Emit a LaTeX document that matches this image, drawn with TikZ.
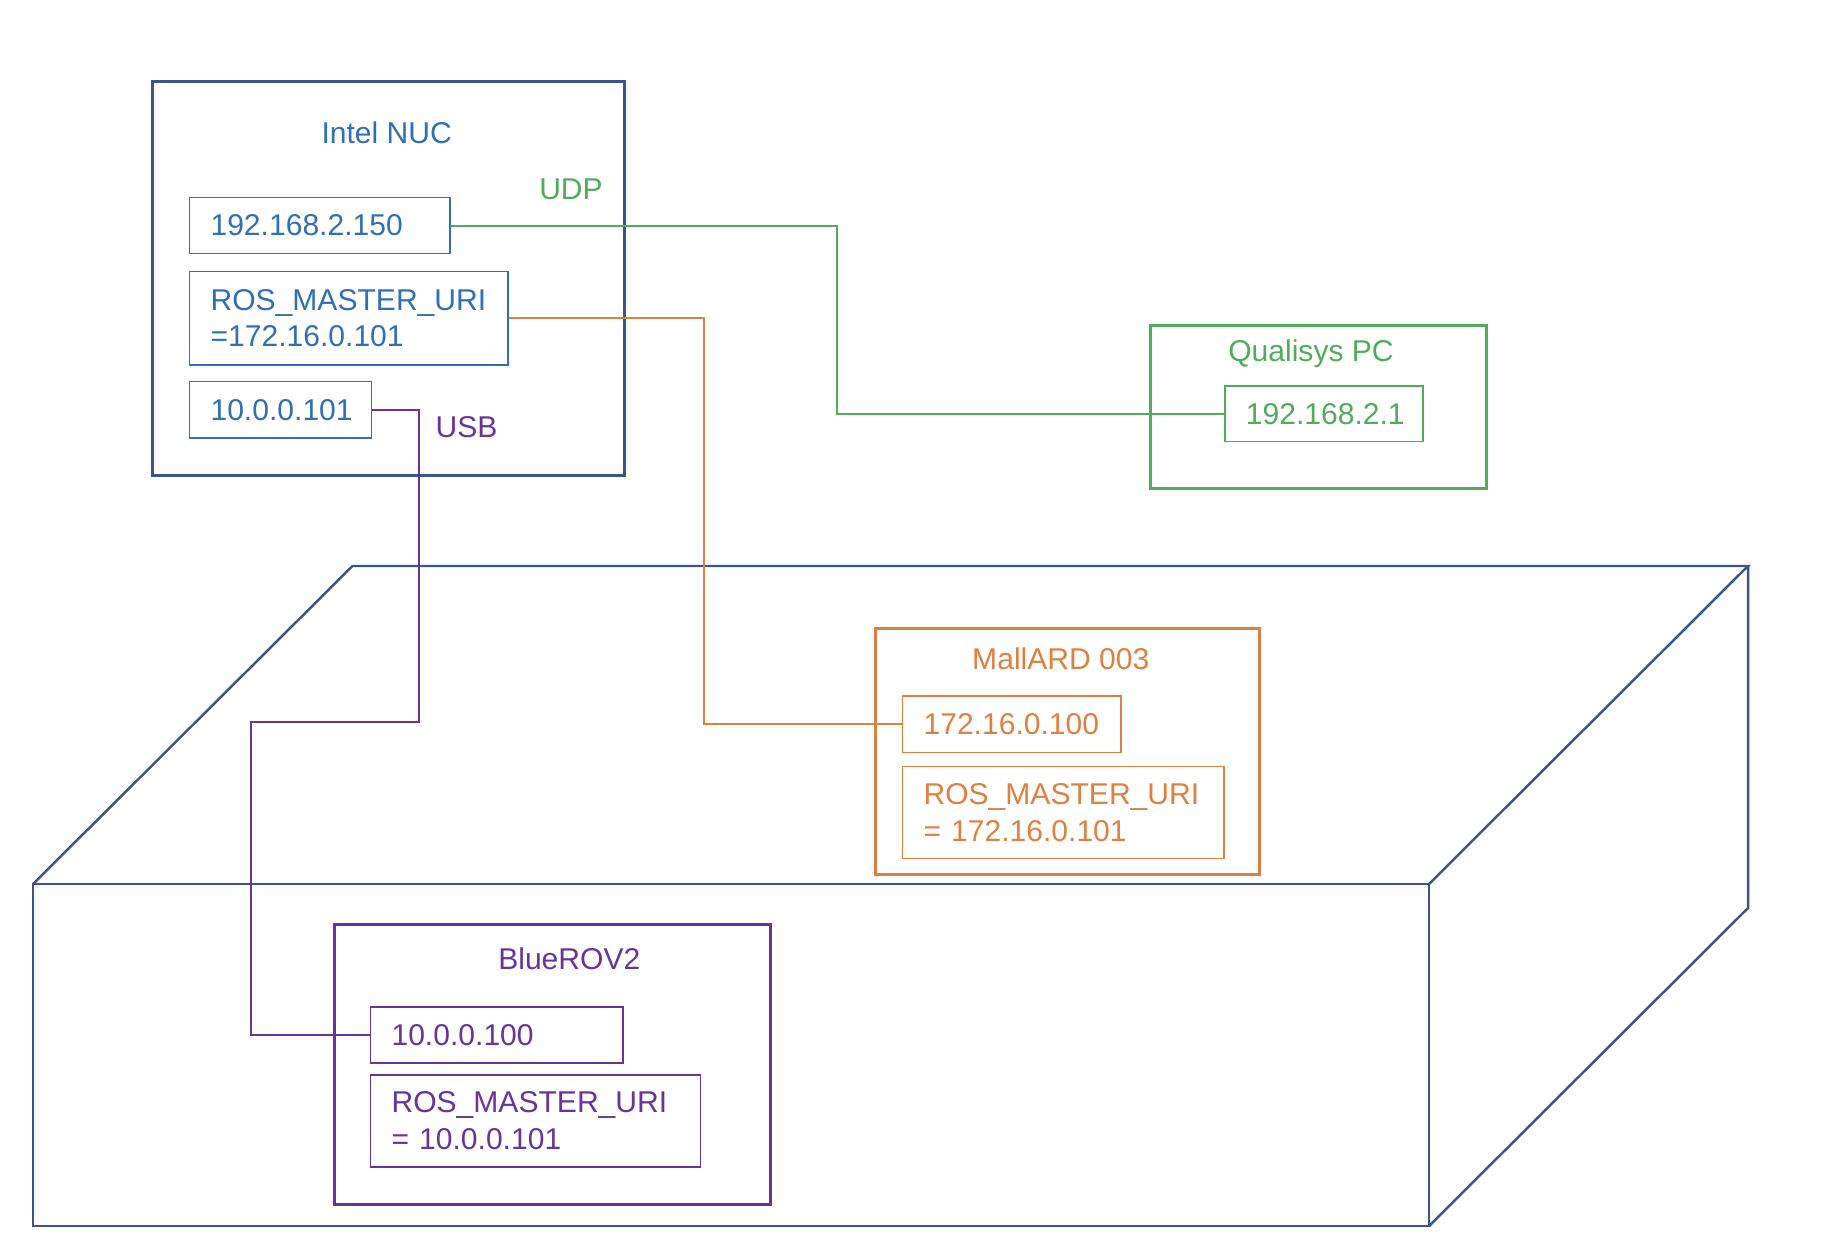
\documentclass[tikz,border=0pt]{standalone}
\usepackage{fontspec}
\setmainfont{Liberation Sans}
\usepackage{tikz}
\usetikzlibrary{calc}

\definecolor{tankblue}{RGB}{59,85,140}
\definecolor{nucblue}{RGB}{47,111,183}
\definecolor{udpgreen}{RGB}{80,172,90}
\definecolor{ethorange}{RGB}{224,128,64}
\definecolor{usbpurple}{RGB}{104,52,156}

\begin{document}
\begin{tikzpicture}[x = 0.01cm, y = -0.01cm,
          every node/.style = {font=\fontsize{8.55}{10.4}\selectfont},
          outer/.style = {draw, line width=0.8pt, anchor=north west, inner sep=0pt},
          inner/.style = {draw, line width=0.48pt, anchor=north west, inner xsep=0.21cm, inner ysep=0pt, align=left},
          title/.style = {anchor=base},
          wire/.style = {line width=0.55pt}]
          \useasboundingbox (0,0) rectangle (1842,1252);

          % tank
          \coordinate (tbl) at (352.5,566);
          \coordinate (tbr) at (1748,566);
          \coordinate (tbb) at (1748,908);
          \coordinate (tfl) at (33,884);
          \coordinate (tfr) at (1429,884);
          \coordinate (tfb) at (1429,1226);
          \draw[tankblue, line width=0.7pt] (tfl) rectangle (tfb);
          \draw[tankblue, line width=0.7pt] (tfl) -- (tbl) -- (tbr) -- (tfr);
          \draw[tankblue, line width=0.7pt] (tbr) -- (tbb) -- (tfb);

          % Intel NUC
          \node[outer, tankblue, minimum width=4.717cm, minimum height=3.94cm] (nuc) at (150.9,80) {};
          \node[title, nucblue] (nuctitle) at (386.7,144) {Intel NUC};
          \node[inner, nucblue, text width=2.186cm, minimum height=0.56cm] (ipnuc) at (188.7,196.7) {192.168.2.150};
          \node[inner, nucblue, text width=2.762cm, minimum height=0.933cm] (urinuc) at (188.7,270.7) {ROS\_MASTER\_URI\\=172.16.0.101};
          \node[inner, nucblue, text width=1.397cm, minimum height=0.563cm] (usbnuc) at (188.7,380.7) {10.0.0.101};

          % Qualisys PC
          \node[outer, udpgreen, minimum width=3.36cm, minimum height=1.624cm] (qual) at (1149,324.3) {};
          \node[title, udpgreen] (qualtitle) at (1311,361.7) {Qualisys PC};
          \node[inner, udpgreen, text width=1.563cm, minimum height=0.557cm] (ipqual) at (1224,385) {192.168.2.1};

          % MallARD
          \node[outer, ethorange, minimum width=3.834cm, minimum height=2.466cm] (mal) at (874.3,626.7) {};
          \node[title, ethorange] (maltitle) at (1060.8,669.3) {MallARD 003};
          \node[inner, ethorange, text width=1.763cm, minimum height=0.567cm] (ipmal) at (901.7,695) {172.16.0.100};
          \node[inner, ethorange, text width=2.79cm, minimum height=0.92cm] (urimal) at (901.7,765.7) {ROS\_MASTER\_URI\\= 172.16.0.101};

          % BlueROV2
          \node[outer, usbpurple, minimum width=4.363cm, minimum height=2.8cm] (rov) at (332.7,923.3) {};
          \node[title, usbpurple] (rovtitle) at (569.3,969) {BlueROV2};
          \node[inner, usbpurple, text width=2.103cm, minimum height=0.56cm] (iprov) at (369.7,1006) {10.0.0.100};
          \node[inner, usbpurple, text width=2.876cm, minimum height=0.92cm] (urirov) at (369.7,1074) {ROS\_MASTER\_URI\\= 10.0.0.101};

          % links
          \node[title, udpgreen] (udp) at (571,200) {UDP};
          \node[title, usbpurple] (usb) at (466.5,437.3) {USB};
          \coordinate (gbend) at (836.7,0);
          \coordinate (obend) at (704.3,0);
          \coordinate (pbend1) at (419.3,721.7);
          \coordinate (pbend2) at (251,721.7);
          \draw[wire, udpgreen] (ipnuc.east) -| (gbend |- ipqual.west) -- (ipqual.west);
          \draw[wire, ethorange] (urinuc.east) -| (obend |- ipmal.west) -- (ipmal.west);
          \draw[wire, usbpurple] (usbnuc.east) -| (pbend1) -- (pbend2) |- (iprov.west);
        \end{tikzpicture}
\end{document}
